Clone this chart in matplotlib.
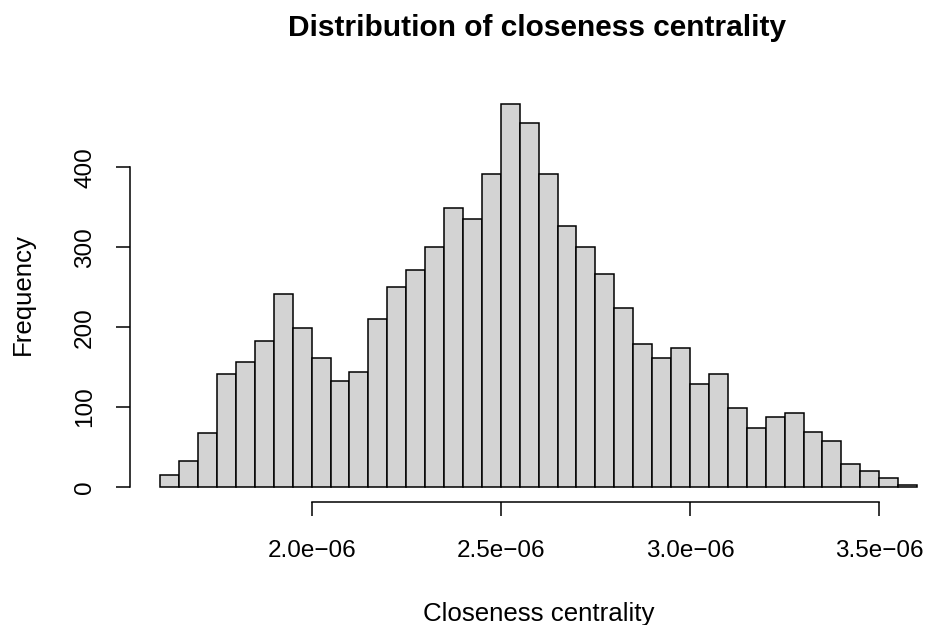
import numpy as np
import matplotlib.pyplot as plt

plt.rcParams['font.family'] = ['Liberation Sans', 'DejaVu Sans']

# histogram breaks: 1.6e-06 .. 3.6e-06 in steps of 5e-08
break_start = 1.6e-6
bin_width = 0.05e-6
counts = [15, 32, 68, 141, 156, 183, 241, 199, 161, 133,
          144, 210, 250, 271, 301, 349, 336, 392, 479, 456,
          392, 327, 300, 266, 224, 179, 162, 174, 129, 141,
          99, 74, 87, 93, 69, 58, 29, 20, 11, 2]
x_ticks = [2.0e-6, 2.5e-6, 3.0e-6, 3.5e-6]
x_tick_labels = ["2.0e\u221206", "2.5e\u221206", "3.0e\u221206", "3.5e\u221206"]
y_ticks = [0, 100, 200, 300, 400]

W, H = 928, 625
fig = plt.figure(figsize=(W / 100, H / 100), dpi=100)

# plot region in pixels (R style, right edge runs past the device)
left, right = 130, 947.3
top, bottom = 89, 502.3
ax = fig.add_axes([left / W, 1 - bottom / H, (right - left) / W, (bottom - top) / H])

edges = break_start + bin_width * np.arange(len(counts))
ax.bar(edges, counts, width=bin_width, align='edge',
       color='#d3d3d3', edgecolor='black', linewidth=1.1)

x_lo, x_hi = break_start, break_start + bin_width * len(counts)
pad_x = 0.04 * (x_hi - x_lo)
ax.set_xlim(x_lo - pad_x, x_hi + pad_x)
ymax = max(counts)
ax.set_ylim(-0.04 * ymax, 1.04 * ymax)

for s in ['top', 'right']:
    ax.spines[s].set_visible(False)
ax.spines['bottom'].set_bounds(x_ticks[0], x_ticks[-1])
ax.spines['left'].set_bounds(y_ticks[0], y_ticks[-1])
for s in ['bottom', 'left']:
    ax.spines[s].set_linewidth(1.1)

ax.set_xticks(x_ticks)
ax.set_xticklabels(x_tick_labels)
ax.set_yticks(y_ticks)
ax.set_yticklabels([str(v) for v in y_ticks], rotation=90, va='center')
ax.tick_params(axis='both', length=10.4, width=1.1, labelsize=17.5)
ax.tick_params(axis='x', pad=16.4)
ax.tick_params(axis='y', pad=14)

fig.text(537 / W, 1 - 36.5 / H, 'Distribution of closeness centrality',
         ha='center', va='baseline', fontsize=21.5, fontweight='bold')
fig.text(538.3 / W, 1 - 621.5 / H, 'Closeness centrality',
         ha='center', va='baseline', fontsize=18.6)
fig.text(30 / W, 1 - 294 / H, 'Frequency', rotation=90, rotation_mode='anchor',
         ha='center', va='baseline', fontsize=18.6)

fig.savefig('out.png', dpi=100)
